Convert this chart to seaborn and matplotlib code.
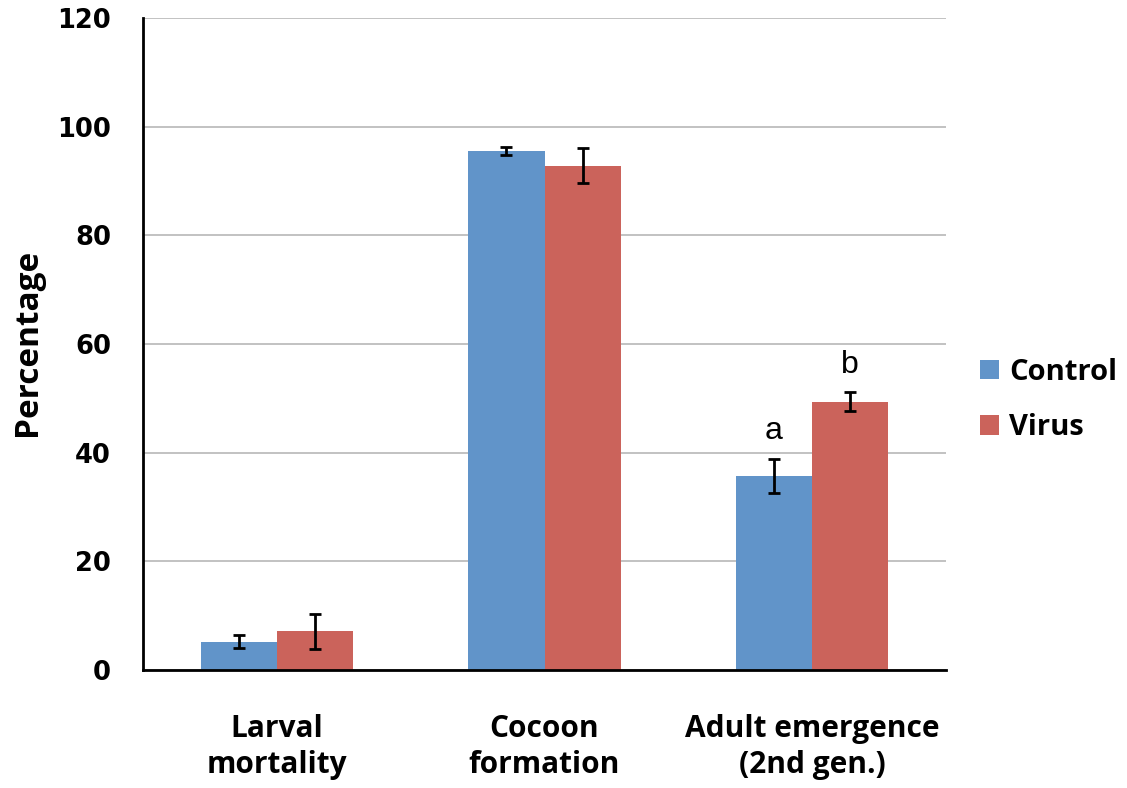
import matplotlib
matplotlib.use("Agg")
import matplotlib.pyplot as plt
import seaborn as sns
import pandas as pd
from matplotlib.patches import Patch

# Data
categories = ["Larval\nmortality", "Cocoon\nformation", "Adult emergence\n(2nd gen.)"]
groups = ["Control", "Virus"]
control_vals = [5.2, 95.5, 35.7]
virus_vals = [7.1, 92.8, 49.4]
control_err = [1.2, 0.7, 3.2]
virus_err = [3.3, 3.2, 1.7]
sig_letters = {("Adult emergence\n(2nd gen.)", "Control"): "a",
               ("Adult emergence\n(2nd gen.)", "Virus"): "b"}
y_ticks = [0, 20, 40, 60, 80, 100, 120]

colors = {"Control": "#6194C9", "Virus": "#CB635B"}

df = pd.DataFrame({
    "category": categories * 2,
    "group": ["Control"] * 3 + ["Virus"] * 3,
    "value": control_vals + virus_vals,
    "err": control_err + virus_err,
})

sns.set_style("white")
plt.rcParams.update({
    "text.color": "black",
    "axes.labelcolor": "black",
    "xtick.color": "black",
    "ytick.color": "black",
})

fig = plt.figure(figsize=(11.27, 7.88), dpi=100)
ax = fig.add_axes([0.1269, 0.1497, 0.7125, 0.8275])

sns.barplot(data=df, x="category", y="value", hue="group", order=categories,
            hue_order=groups, palette=colors, width=0.57, errorbar=None,
            saturation=1, edgecolor="none", linewidth=0, ax=ax, legend=False,
            zorder=2)

# error bars and significance letters from the bar geometry
for cont, g in zip(ax.containers, groups):
    sub = df[df.group == g].set_index("category").loc[categories]
    xs = [b.get_x() + b.get_width() / 2 for b in cont]
    ax.errorbar(xs, sub["value"], yerr=sub["err"], fmt="none", ecolor="black",
                elinewidth=2, capsize=4, capthick=2, zorder=3)
    for x, cat in zip(xs, categories):
        key = (cat, g)
        if key in sig_letters:
            top = sub.loc[cat, "value"] + sub.loc[cat, "err"]
            ax.text(x, top + 2.3, sig_letters[key], ha="center", va="bottom",
                    fontsize=23, family="Liberation Sans", color="black")

ax.set_xlim(-0.5, 2.5)
ax.set_ylim(0, 120)
ax.set_yticks(y_ticks)
ax.set_yticklabels([str(t) for t in y_ticks], fontsize=18.5, fontweight="bold",
                   family="DejaVu Sans")
ax.set_xticks(range(len(categories)))
ax.set_xticklabels(categories, fontsize=21.5, fontweight="bold", family="Open Sans",
                   linespacing=1.22)
ax.tick_params(axis="x", which="major", length=11, width=1.5, direction="inout",
               pad=26.5, color="black")
ax.tick_params(axis="y", which="major", length=10, width=1.5, direction="out",
               pad=13, color="black")
ax.set_xticks([2.5], minor=True)
ax.tick_params(axis="x", which="minor", length=11, width=1.5, direction="inout")

ax.yaxis.grid(True, color="#bdbdbd", linewidth=1.3, zorder=0)
ax.set_axisbelow(True)
for side in ["top", "right"]:
    ax.spines[side].set_visible(False)
for side in ["left", "bottom"]:
    ax.spines[side].set_color("black")
    ax.spines[side].set_linewidth(2)

ax.set_xlabel("")
ax.set_ylabel("")
fig.text(28 / 1127, 1 - 342 / 788, "Percentage", rotation=90, ha="center",
         va="center", fontsize=24, fontweight="bold", family="Open Sans")

handles = [Patch(facecolor=colors[g], edgecolor="none", label=g) for g in groups]
fig.legend(handles=handles, loc="center left", bbox_to_anchor=(0.8696, 0.4924),
           frameon=False, handlelength=0.65, handleheight=0.65,
           handletextpad=0.34, labelspacing=0.9, borderpad=0, borderaxespad=0,
           prop={"family": "Open Sans", "weight": "bold", "size": 21})

fig.savefig("out.png", dpi=100, facecolor="white")
